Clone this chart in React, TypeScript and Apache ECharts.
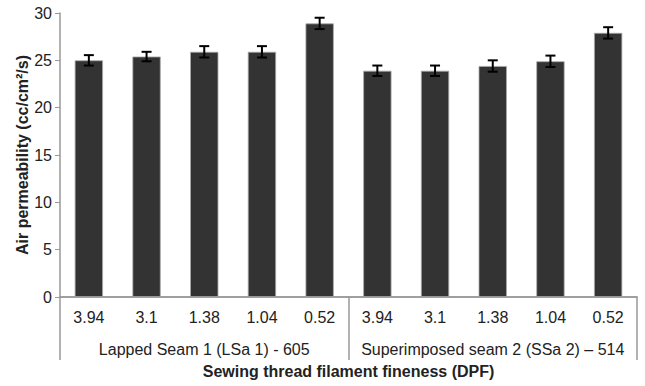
import React, { useEffect, useRef } from "react";
import * as echarts from "echarts";

const categories = ["3.94", "3.1", "1.38", "1.04", "0.52", "3.94", "3.1", "1.38", "1.04", "0.52"];
const groups = ["Lapped Seam 1 (LSa 1) - 605", "Superimposed seam 2 (SSa 2) \u2013 514"];
const values = [25, 25.4, 25.9, 25.9, 28.9, 23.9, 23.9, 24.4, 24.9, 27.9];
const errors = [0.55, 0.5, 0.6, 0.6, 0.6, 0.55, 0.55, 0.6, 0.6, 0.6];
const yTicks = { min: 0, max: 30, interval: 5 };

export default function App() {
  const ref = useRef<HTMLDivElement>(null);
  useEffect(() => {
    if (!ref.current) return;
    const chart = echarts.init(ref.current, undefined, { renderer: "svg" });
    const font = "Liberation Sans, Arial, sans-serif";
    chart.setOption({
      animation: false,
      grid: { left: 60, right: 8, top: 13, bottom: 89 },
      xAxis: [
        {
          type: "category",
          data: categories,
          axisLine: { lineStyle: { color: "#999", width: 1.5 } },
          axisTick: { show: false },
          axisLabel: { color: "#222", fontSize: 16, fontFamily: font, margin: 12, interval: 0 },
        },
        {
          type: "category",
          data: groups,
          position: "bottom",
          axisLine: { show: true, lineStyle: { color: "#999", width: 1.5 } },
          axisTick: { show: true, length: 63, interval: 0, lineStyle: { color: "#999", width: 1.5 } },
          axisLabel: { color: "#222", fontSize: 16, fontFamily: font, margin: 44, interval: 0, hideOverlap: false },
          name: "Sewing thread filament fineness (DPF)",
          nameLocation: "middle",
          nameGap: 66,
          nameMoveOverlap: false,
          nameTextStyle: { color: "#222", fontSize: 16, fontWeight: "bold", fontFamily: font },
        },
      ],
      yAxis: {
        type: "value",
        min: yTicks.min,
        max: yTicks.max,
        interval: yTicks.interval,
        axisLine: { show: true, lineStyle: { color: "#999", width: 1.5 } },
        axisTick: { show: true, length: 5, lineStyle: { color: "#999" } },
        splitLine: { show: false },
        axisLabel: { color: "#222", fontSize: 16, fontFamily: font, margin: 8 },
        name: "Air permeability (cc/cm\u00b2/s)",
        nameLocation: "middle",
        nameGap: 30,
        nameMoveOverlap: false,
        nameTextStyle: { color: "#222", fontSize: 16, fontWeight: "bold", fontFamily: font },
      },
      series: [
        {
          type: "bar",
          data: values,
          barWidth: "49%",
          itemStyle: { color: "#333333", borderColor: "#aaaaaa", borderWidth: 0.8 },
        },
        {
          type: "custom",
          data: values.map((v, i) => [i, v - errors[i], v + errors[i]]),
          z: 10,
          renderItem: (params: any, api: any) => {
            const i = api.value(0);
            const lo = api.coord([i, api.value(1)]);
            const hi = api.coord([i, api.value(2)]);
            const hw = 5;
            const style = { stroke: "#000", lineWidth: 2 };
            return {
              type: "group",
              children: [
                { type: "line", shape: { x1: lo[0], y1: lo[1], x2: hi[0], y2: hi[1] }, style },
                { type: "line", shape: { x1: lo[0] - hw, y1: lo[1], x2: lo[0] + hw, y2: lo[1] }, style },
                { type: "line", shape: { x1: hi[0] - hw, y1: hi[1], x2: hi[0] + hw, y2: hi[1] }, style },
              ],
            };
          },
        },
      ],
    });
    return () => chart.dispose();
  }, []);
  return <div ref={ref} style={{ width: 645, height: 386, position: "absolute", left: 0, top: 0, background: "#fff" }} />;
}
